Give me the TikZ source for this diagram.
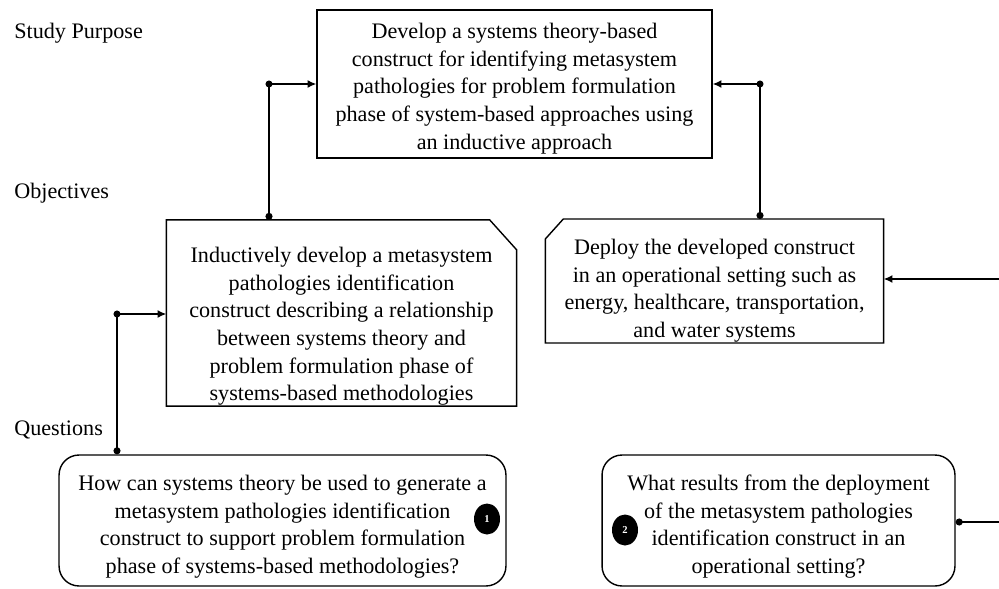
\documentclass[tikz,border=0pt]{standalone}
\usepackage{fontspec}
\setmainfont{Liberation Serif}
\usetikzlibrary{positioning}
\usetikzlibrary{arrows.meta}
\usetikzlibrary{shapes.geometric}
% taller first line, pushes the text block down in its box
\newcommand{\droptext}[1]{\rule{0pt}{#1}}
\tikzset{
        textbox/.style={align=center,inner sep=0pt,line width=0.8pt,
            font=\fontsize{12.6pt}{15.7pt}\selectfont},
        % Study purpose box
        box_purpose/.style={textbox, draw=black, rectangle, minimum width=7.9cm, minimum height=2.96cm},
        % Objective boxes (outline with a cut corner is drawn afterwards)
        box_objective/.style={textbox, rectangle},
        outline/.style={line width=0.8pt, line join=miter},
        % Question boxes
        box_question/.style={textbox, draw=black, rectangle, rounded corners=0.4cm, minimum height=2.62cm},
        % Row labels
        row_label/.style={anchor=west, inner sep=0pt, font=\fontsize{12.6pt}{14pt}\selectfont},
        % Numbered badges
        badge/.style={ellipse, fill=black, text=white, inner sep=0pt,
            minimum width=0.52cm, minimum height=0.62cm, font=\fontsize{6pt}{6pt}\selectfont\bfseries},
        % Connectors
        link/.style={line width=0.8pt, {Circle[length=4pt]}-{Latex[length=5pt,width=4.5pt]}},
        link_open/.style={line width=0.8pt, {Circle[length=4pt]}-}
}

\begin{document}
\begin{tikzpicture}[x=0.02cm, y=-0.02cm]
    \useasboundingbox (0,0) rectangle (999,588);

    \node[row_label] (lbl_purpose) at (14,33) {Study Purpose};
    \node[row_label] (lbl_objectives) at (14,193) {Objectives};
    \node[row_label] (lbl_questions) at (14,430) {Questions};

    \node[box_purpose] (purpose) at (514.5,84) {\droptext{14pt}Develop a systems theory-based\\
        construct for identifying metasystem\\
        pathologies for problem formulation\\
        phase of system-based approaches using\\
        an inductive approach};

    \node[box_objective, minimum width=6.98cm, minimum height=3.64cm] (obj_left) at (341.5,313)
        {\droptext{24pt}Inductively develop a metasystem\\
        pathologies identification\\
        construct describing a relationship\\
        between systems theory and\\
        problem formulation phase of\\
        systems-based methodologies};
    \node[box_objective, minimum width=6.74cm, minimum height=2.36cm] (obj_right) at (714.5,281)
        {\droptext{20pt}Deploy the developed construct\\
        in an operational setting such as\\
        energy, healthcare, transportation,\\
        and water systems};
    \draw[outline] (obj_left.north west) -- ([xshift=-0.54cm]obj_left.north east)
        -- ([yshift=-0.6cm]obj_left.north east) -- (obj_left.south east) -- (obj_left.south west) -- cycle;
    \draw[outline] ([yshift=-0.4cm]obj_right.north west) -- ([xshift=0.36cm]obj_right.north west)
        -- (obj_right.north east) -- (obj_right.south east) -- (obj_right.south west) -- cycle;

    \node[box_question, minimum width=8.94cm] (q_left) at (282.5,520.5)
        {\droptext{16pt}How can systems theory be used to generate a\\
        metasystem pathologies identification\\
        construct to support problem formulation\\
        phase of systems-based methodologies?};
    \node[box_question, minimum width=7.06cm] (q_right) at (778.5,520.5)
        {\droptext{16pt}What results from the deployment\\
        of the metasystem pathologies\\
        identification construct in an\\
        operational setting?};

    \node[badge] (badge_one) at (487,519) {1};
    \node[badge] (badge_two) at (625,530) {2};

    % corners of the connectors
    \coordinate (c_purpose_l) at (269,84);
    \coordinate (c_purpose_r) at (760,84);
    \coordinate (c_question_l) at (117,314);
    \coordinate (e_obj_r) at (999,279);
    \coordinate (e_q_r) at (999,522);

    \draw[link] (c_purpose_l |- obj_left.north) -- (c_purpose_l) -- (c_purpose_l -| purpose.west);
    \draw[link] (c_purpose_r |- obj_right.north) -- (c_purpose_r) -- (c_purpose_r -| purpose.east);
    \draw[link] (c_question_l |- q_left.north) -- (c_question_l) -- (c_question_l -| obj_left.west);
    \draw[line width=0.8pt, -{Latex[length=5pt,width=4.5pt]}] (e_obj_r) -- (e_obj_r -| obj_right.east);
    \draw[link_open] (e_q_r -| q_right.east) -- (e_q_r);
    \foreach \c in {c_purpose_l, c_purpose_r, c_question_l}
        \fill (\c) circle (2pt);
\end{tikzpicture}
\end{document}
